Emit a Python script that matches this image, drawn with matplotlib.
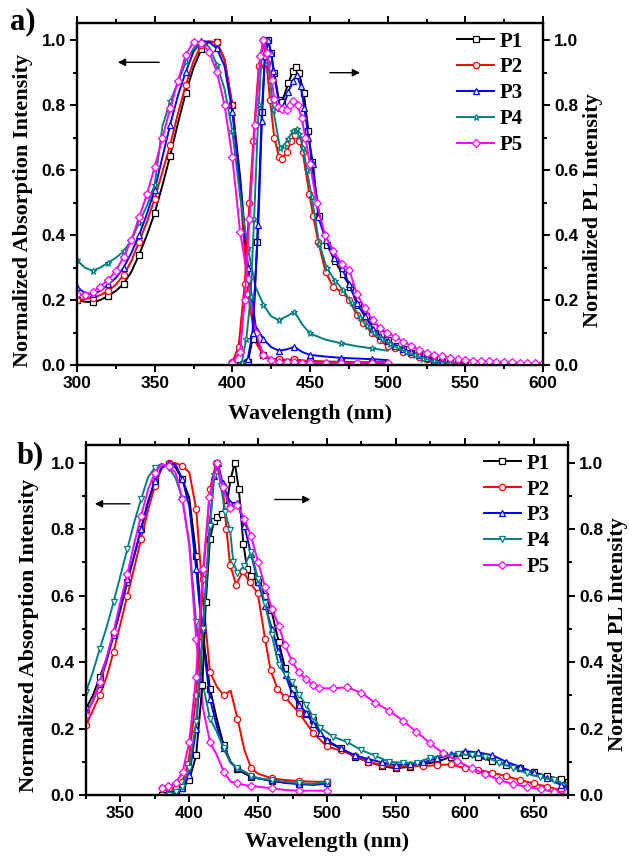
import matplotlib
matplotlib.use("Agg")
import matplotlib.pyplot as plt
from matplotlib.ticker import MultipleLocator

plt.rcParams['font.family'] = ['Liberation Sans', 'DejaVu Sans']
plt.rcParams['font.weight'] = 'bold'

NAMES = ['P1', 'P2', 'P3', 'P4', 'P5']
COLORS = ['black', '#ff0000', '#0000ff', '#008080', '#ff00ff']

# ---------------- panel a : absorption (300-500 nm) ----------------
A_ABS_WL = [300, 305, 310, 315, 320, 325, 330, 335, 340, 345, 350, 355, 360, 365, 370,
            375, 380, 385, 390, 395, 400, 405, 410, 415, 420, 425, 430, 435, 440, 445,
            450, 460, 470, 480, 490, 500]
A_ABS_P1 = [0.200, 0.195, 0.193, 0.200, 0.213, 0.228, 0.250, 0.287, 0.340, 0.400, 0.468, 0.553,
            0.645, 0.745, 0.838, 0.915, 0.972, 0.995, 0.995, 0.940, 0.800, 0.580, 0.300, 0.080,
            0.030, 0.018, 0.015, 0.015, 0.015, 0.013, 0.012, 0.010, 0.010, 0.008, 0.008, 0.008]
A_ABS_P2 = [0.200, 0.203, 0.207, 0.215, 0.228, 0.247, 0.277, 0.320, 0.380, 0.440, 0.512, 0.595,
            0.678, 0.775, 0.862, 0.935, 0.985, 0.997, 0.993, 0.940, 0.800, 0.540, 0.220, 0.070,
            0.030, 0.020, 0.018, 0.016, 0.018, 0.014, 0.012, 0.010, 0.009, 0.008, 0.008, 0.008]
A_ABS_P3 = [0.240, 0.222, 0.218, 0.228, 0.248, 0.268, 0.300, 0.345, 0.400, 0.465, 0.540, 0.640,
            0.740, 0.830, 0.902, 0.965, 0.998, 0.995, 0.975, 0.920, 0.780, 0.560, 0.300, 0.120,
            0.080, 0.055, 0.044, 0.048, 0.056, 0.040, 0.031, 0.026, 0.022, 0.020, 0.018, 0.015]
A_ABS_P4 = [0.323, 0.300, 0.290, 0.300, 0.315, 0.330, 0.350, 0.385, 0.438, 0.490, 0.555, 0.735,
            0.812, 0.870, 0.932, 0.975, 0.993, 0.980, 0.925, 0.850, 0.720, 0.520, 0.360, 0.240,
            0.185, 0.150, 0.138, 0.150, 0.164, 0.125, 0.097, 0.078, 0.067, 0.058, 0.051, 0.044]
A_ABS_P5 = [0.220, 0.214, 0.225, 0.241, 0.262, 0.290, 0.333, 0.385, 0.455, 0.525, 0.610, 0.700,
            0.790, 0.875, 0.955, 0.995, 0.992, 0.964, 0.903, 0.800, 0.639, 0.410, 0.264, 0.100,
            0.030, 0.015, 0.010, 0.008, 0.008, 0.007, 0.006, 0.005, 0.005, 0.005, 0.005, 0.005]

# ---------------- panel a : PL ----------------
A_PL_P1_WL = [400, 405, 410, 413, 416, 419, 421, 423, 425, 427, 430, 432, 436, 439, 441, 443, 446,
              449, 451, 456, 461, 466, 471, 476, 481, 486, 491, 496, 500, 505, 510, 515, 520, 525,
              530, 535, 540, 545, 550]
A_PL_P1 = [0.0, 0.0, 0.01, 0.08, 0.38, 0.78, 0.95, 1.0, 0.96, 0.90, 0.815, 0.81, 0.867, 0.905,
           0.916, 0.90, 0.836, 0.72, 0.626, 0.46, 0.37, 0.32, 0.28, 0.24, 0.185, 0.15, 0.118,
           0.095, 0.077, 0.06, 0.048, 0.038, 0.03, 0.022, 0.015, 0.01, 0.005, 0.003, 0.0]
A_PL_P2_WL = [400, 404, 408, 411, 413.5, 417, 420, 422, 424.3, 427, 430, 432, 435, 438, 440.3, 443,
              445.3, 449.6, 452, 455.3, 460, 465, 470.6, 475.3, 480, 484, 490, 495, 500, 505, 510,
              515, 520, 525, 530, 535, 540, 545, 550]
A_PL_P2 = [0.01, 0.056, 0.25, 0.5, 0.69, 0.92, 1.0, 0.93, 0.815, 0.70, 0.641, 0.635, 0.656, 0.69,
           0.708, 0.69, 0.656, 0.526, 0.46, 0.38, 0.287, 0.24, 0.225, 0.20, 0.155, 0.13, 0.097,
           0.077, 0.057, 0.051, 0.041, 0.033, 0.025, 0.02, 0.015, 0.01, 0.005, 0.002, 0.0]
A_PL_P3_WL = [400, 405, 410, 413, 416.7, 419, 421, 423, 425, 426.4, 430.7, 433, 436, 439, 441.4,
              444, 446.4, 449, 452, 455.3, 460.2, 465.4, 470.3, 475.3, 480, 485.4, 490.8, 495,
              500, 505, 510, 515, 520, 525, 530, 535, 540, 545, 550]
A_PL_P3 = [0.0, 0.003, 0.02, 0.1, 0.43, 0.75, 0.95, 1.0, 0.96, 0.906, 0.79, 0.80, 0.84, 0.875,
           0.892, 0.86, 0.79, 0.70, 0.62, 0.456, 0.385, 0.33, 0.30, 0.249, 0.19, 0.15, 0.11,
           0.09, 0.075, 0.06, 0.05, 0.04, 0.03, 0.022, 0.015, 0.01, 0.005, 0.003, 0.0]
A_PL_P4_WL = [400, 406, 409, 411.8, 414, 417, 419, 421, 423, 426.4, 430.7, 433, 436, 439, 441.4,
              443, 445.7, 448, 451.1, 455.9, 460.7, 466, 471.5, 476.8, 482.2, 486.5, 491.2, 496.6,
              501.3, 506.7, 512, 517.4, 522.8, 530, 540, 550]
A_PL_P4 = [0.0, 0.005, 0.08, 0.21, 0.45, 0.80, 0.96, 1.0, 0.93, 0.785, 0.667, 0.675, 0.697, 0.72,
           0.728, 0.71, 0.667, 0.60, 0.518, 0.374, 0.30, 0.26, 0.23, 0.19, 0.144, 0.12, 0.10,
           0.08, 0.065, 0.054, 0.04, 0.03, 0.02, 0.012, 0.005, 0.0]
A_PL_P5_WL = [400, 405, 408, 411, 414.6, 418, 420, 422, 425.3, 427, 429.6, 432, 435, 437, 439.3,
              442, 444.7, 447, 450, 454.3, 459.7, 465, 470.6, 475.3, 480, 485.4, 490.3, 495,
              499.8, 504.7, 510, 515, 520, 525, 530, 535, 540, 545, 550, 555, 560, 565, 570,
              575, 580, 585, 590, 595, 600]
A_PL_P5 = [0.007, 0.041, 0.2, 0.45, 0.74, 0.95, 1.0, 0.96, 0.877, 0.82, 0.795, 0.788, 0.785, 0.80,
           0.813, 0.80, 0.76, 0.70, 0.618, 0.50, 0.40, 0.352, 0.31, 0.294, 0.22, 0.174, 0.138,
           0.113, 0.10, 0.087, 0.072, 0.06, 0.047, 0.037, 0.03, 0.027, 0.022, 0.017, 0.015,
           0.013, 0.012, 0.011, 0.01, 0.009, 0.008, 0.007, 0.006, 0.005, 0.005]

# ---------------- panel b : absorption (325-500 nm) ----------------
B_ABS_WL = [325, 330, 335, 340, 345, 350, 355, 360, 365, 370, 375, 380, 385, 390, 395, 400, 405,
            410, 415, 420, 425, 430, 435, 440, 445, 450, 460, 470, 480, 490, 500]
B_ABS_P1 = [0.260, 0.300, 0.355, 0.410, 0.485, 0.560, 0.640, 0.720, 0.800, 0.880, 0.945, 0.985,
            0.997, 0.985, 0.950, 0.894, 0.720, 0.480, 0.320, 0.228, 0.150, 0.100, 0.078, 0.065,
            0.055, 0.050, 0.042, 0.037, 0.034, 0.033, 0.040]
B_ABS_P2 = [0.210, 0.255, 0.300, 0.356, 0.430, 0.515, 0.600, 0.683, 0.770, 0.856, 0.930, 0.984,
            0.998, 0.999, 0.990, 0.971, 0.860, 0.590, 0.370, 0.326, 0.300, 0.314, 0.230, 0.135,
            0.080, 0.064, 0.050, 0.045, 0.042, 0.040, 0.040]
B_ABS_P3 = [0.245, 0.282, 0.335, 0.404, 0.480, 0.558, 0.650, 0.720, 0.800, 0.883, 0.945, 0.984,
            0.998, 0.994, 0.950, 0.868, 0.680, 0.460, 0.290, 0.206, 0.140, 0.097, 0.080, 0.070,
            0.058, 0.050, 0.044, 0.036, 0.033, 0.030, 0.035]
B_ABS_P4 = [0.310, 0.370, 0.440, 0.505, 0.580, 0.660, 0.740, 0.820, 0.890, 0.955, 0.985, 0.997,
            0.985, 0.955, 0.890, 0.760, 0.520, 0.330, 0.230, 0.190, 0.140, 0.100, 0.080, 0.070,
            0.058, 0.050, 0.045, 0.040, 0.036, 0.033, 0.040]
B_ABS_P5 = [0.240, 0.284, 0.340, 0.415, 0.490, 0.582, 0.665, 0.756, 0.840, 0.918, 0.970, 0.995,
            0.990, 0.970, 0.890, 0.750, 0.470, 0.260, 0.160, 0.120, 0.070, 0.040, 0.035, 0.030,
            0.027, 0.025, 0.020, 0.015, 0.013, 0.013, 0.013]

# ---------------- panel b : PL ----------------
B_PL_P1_WL = [380, 385, 390, 395, 400, 405, 409.5, 412, 415, 418, 420, 424, 427, 430, 433, 436,
              439.3, 442, 445, 450, 455, 459.6, 465, 469.5, 475, 479.9, 485, 490, 500, 510, 520,
              530, 540, 550, 560, 570, 580, 590, 600, 610, 620, 630, 640, 650, 660, 670, 675]
B_PL_P1 = [0.0, 0.002, 0.01, 0.02, 0.045, 0.12, 0.33, 0.58, 0.77, 0.825, 0.835, 0.845, 0.87, 0.95,
           1.0, 0.92, 0.756, 0.68, 0.66, 0.64, 0.60, 0.556, 0.46, 0.382, 0.32, 0.274, 0.245,
           0.225, 0.16, 0.14, 0.115, 0.10, 0.087, 0.08, 0.085, 0.093, 0.10, 0.115, 0.12, 0.113,
           0.103, 0.09, 0.08, 0.068, 0.057, 0.047, 0.04]
B_PL_P2_WL = [380, 385, 390, 395, 399.3, 405, 410, 415, 419.4, 424.2, 427, 429.6, 434, 438.8, 444,
              449.7, 455, 459, 464, 469.5, 479.9, 490, 500, 510, 520, 530, 540, 550, 560, 570,
              580, 590, 600, 610, 620, 630, 640, 650, 660, 670, 675]
B_PL_P2 = [0.02, 0.02, 0.02, 0.04, 0.093, 0.30, 0.65, 0.92, 1.0, 0.93, 0.80, 0.693, 0.633, 0.673,
           0.64, 0.607, 0.47, 0.376, 0.32, 0.294, 0.246, 0.186, 0.146, 0.134, 0.118, 0.10, 0.09,
           0.085, 0.086, 0.087, 0.09, 0.092, 0.08, 0.075, 0.067, 0.057, 0.045, 0.035, 0.025,
           0.015, 0.01]
B_PL_P3_WL = [385, 390, 395, 400, 405, 410, 415, 418, 420.6, 424.2, 429.6, 435, 440, 444.8, 450,
              455, 460, 464.7, 470, 474.4, 480, 484.8, 490, 495, 500, 510, 520, 530, 540, 550,
              560, 570, 580, 590, 600, 610, 620, 630, 640, 650, 660, 670, 675]
B_PL_P3 = [0.005, 0.01, 0.02, 0.06, 0.20, 0.50, 0.82, 0.96, 1.0, 0.939, 0.879, 0.879, 0.81, 0.725,
           0.64, 0.57, 0.50, 0.432, 0.36, 0.308, 0.27, 0.246, 0.215, 0.186, 0.165, 0.14, 0.12,
           0.108, 0.098, 0.09, 0.092, 0.098, 0.11, 0.122, 0.132, 0.128, 0.12, 0.10, 0.085,
           0.068, 0.05, 0.03, 0.02]
B_PL_P4_WL = [385, 390, 394.7, 400, 404.9, 410, 415, 418, 420, 423, 426, 429.6, 432, 435, 440,
              444.8, 450, 455, 460, 465, 470, 474.4, 480, 484.8, 490, 494.9, 504.6, 514.3, 525,
              535, 545, 555, 565, 575, 585, 595, 605, 615, 625, 635, 645, 655, 665, 675]
B_PL_P4 = [0.0, 0.01, 0.025, 0.08, 0.221, 0.50, 0.808, 0.96, 1.0, 0.93, 0.85, 0.798, 0.70, 0.668,
           0.69, 0.73, 0.65, 0.577, 0.48, 0.39, 0.36, 0.341, 0.30, 0.271, 0.235, 0.203, 0.175,
           0.16, 0.135, 0.118, 0.10, 0.097, 0.097, 0.112, 0.12, 0.123, 0.12, 0.115, 0.097,
           0.082, 0.065, 0.053, 0.045, 0.03]
B_PL_P5_WL = [380, 384.3, 390, 395.2, 400, 404.9, 410, 414.6, 420, 424.2, 429.6, 435, 440, 444.8,
              450, 455, 460, 465, 469.5, 474.4, 479.5, 484.8, 490, 494.4, 504.6, 514.8, 524.7,
              534.9, 545, 555, 564.7, 574.8, 584.5, 594.7, 605.1, 614.8, 625.2, 634.9, 645,
              655.2, 664.9, 674]
B_PL_P5 = [0.02, 0.026, 0.035, 0.07, 0.16, 0.356, 0.68, 0.897, 1.0, 0.927, 0.863, 0.873, 0.83,
           0.78, 0.70, 0.627, 0.56, 0.509, 0.45, 0.404, 0.37, 0.348, 0.33, 0.321, 0.321, 0.324,
           0.308, 0.278, 0.254, 0.224, 0.191, 0.156, 0.125, 0.103, 0.08, 0.063, 0.045, 0.033,
           0.025, 0.017, 0.01, 0.01]

A_ABS = [A_ABS_P1, A_ABS_P2, A_ABS_P3, A_ABS_P4, A_ABS_P5]
A_PL = [(A_PL_P1_WL, A_PL_P1), (A_PL_P2_WL, A_PL_P2), (A_PL_P3_WL, A_PL_P3),
        (A_PL_P4_WL, A_PL_P4), (A_PL_P5_WL, A_PL_P5)]
B_ABS = [B_ABS_P1, B_ABS_P2, B_ABS_P3, B_ABS_P4, B_ABS_P5]
B_PL = [(B_PL_P1_WL, B_PL_P1), (B_PL_P2_WL, B_PL_P2), (B_PL_P3_WL, B_PL_P3),
        (B_PL_P4_WL, B_PL_P4), (B_PL_P5_WL, B_PL_P5)]

SERIF = ['Liberation Serif', 'DejaVu Serif']
W, H = 630, 857


def panel(rect, abs_wl, abs_list, pl_list, markers, xlim, abs_every, arrows, leg_xy, xpad):
    left, top, right, bottom = rect
    ax = fig.add_axes([left / W, 1 - bottom / H, (right - left) / W, (bottom - top) / H])
    ax2 = ax.twinx()
    handles = []
    for i in range(5):
        ms = 3.8 if markers[i] == 'D' else 4.5
        mk = dict(marker=markers[i], markersize=ms, markerfacecolor='white',
                  markeredgecolor=COLORS[i], markeredgewidth=0.9)
        h, = ax.plot(abs_wl, abs_list[i], color=COLORS[i], lw=1.4,
                     markevery=abs_every[i], label=NAMES[i], **mk)
        ax2.plot(pl_list[i][0], pl_list[i][1], color=COLORS[i], lw=1.4, **mk)
        handles.append(h)
    for a in (ax, ax2):
        a.set_ylim(0, 1.053)
        a.yaxis.set_major_locator(MultipleLocator(0.2))
        a.yaxis.set_minor_locator(MultipleLocator(0.1))
        for s in a.spines.values():
            s.set_linewidth(1.6)
    ax.set_xlim(*xlim)
    ax.xaxis.set_major_locator(MultipleLocator(50))
    ax.xaxis.set_minor_locator(MultipleLocator(25))
    ax.tick_params(which='both', direction='out', top=True, width=1.4, labelsize=12.5, pad=3)
    ax.tick_params(which='major', length=5)
    ax.tick_params(which='minor', length=3)
    ax2.tick_params(which='both', direction='out', width=1.4, labelsize=12.5, pad=3)
    ax2.tick_params(which='major', length=5)
    ax2.tick_params(which='minor', length=3)
    ax.set_xlabel('Wavelength (nm)', fontfamily=SERIF, fontsize=16, fontweight='bold',
                  labelpad=xpad)
    ax.set_ylabel('Normalized Absorption Intensity', fontfamily=SERIF, fontsize=16,
                  fontweight='bold')
    ax2.set_ylabel('Normalized PL Intensity', fontfamily=SERIF, fontsize=16, fontweight='bold')
    for (x0, x1, y) in arrows:
        ax.annotate('', xy=(x1, y), xytext=(x0, y),
                    arrowprops=dict(arrowstyle='-|>', color='black', lw=1, mutation_scale=11))
    ax2.legend(handles=handles, loc='upper left', bbox_to_anchor=leg_xy, frameon=False,
               prop=dict(family=SERIF, size=15, weight='bold'), handlelength=1.8,
               handletextpad=0.25, labelspacing=0.28, borderpad=0, borderaxespad=0)
    return ax, ax2


fig = plt.figure(figsize=(W / 100, H / 100), dpi=100)

ax_a, ax_a2 = panel((77, 23, 543, 365), A_ABS_WL, A_ABS, A_PL, ['s', 'o', '^', '*', 'D'],
                    (300, 600), [2, 2, 2, 2, 1],
                    [(354.7, 324.5, 0.932), (461, 484, 0.90)], (0.815, 0.975), 9)
ax_b, ax_b2 = panel((86, 445, 568, 795), B_ABS_WL, B_ABS, B_PL, ['s', 'o', '^', 'v', 'D'],
                    (325, 675), [2, 2, 2, 2, 2],
                    [(359, 329.4, 0.876), (460, 490, 0.889)], (0.825, 0.975), 8)

ax_a.yaxis.set_label_coords(-0.095, 0.453)
ax_a2.yaxis.set_label_coords(1.085, 0.453)
ax_b.yaxis.set_label_coords(-0.098, 0.457)
ax_b2.yaxis.set_label_coords(1.082, 0.459)

fig.text(10 / W, 1 - 22 / H, 'a)', fontfamily=SERIF, fontsize=22, fontweight='bold', va='center')
fig.text(17 / W, 1 - 456 / H, 'b)', fontfamily=SERIF, fontsize=22, fontweight='bold', va='center')

fig.savefig('out.png', dpi=100)
